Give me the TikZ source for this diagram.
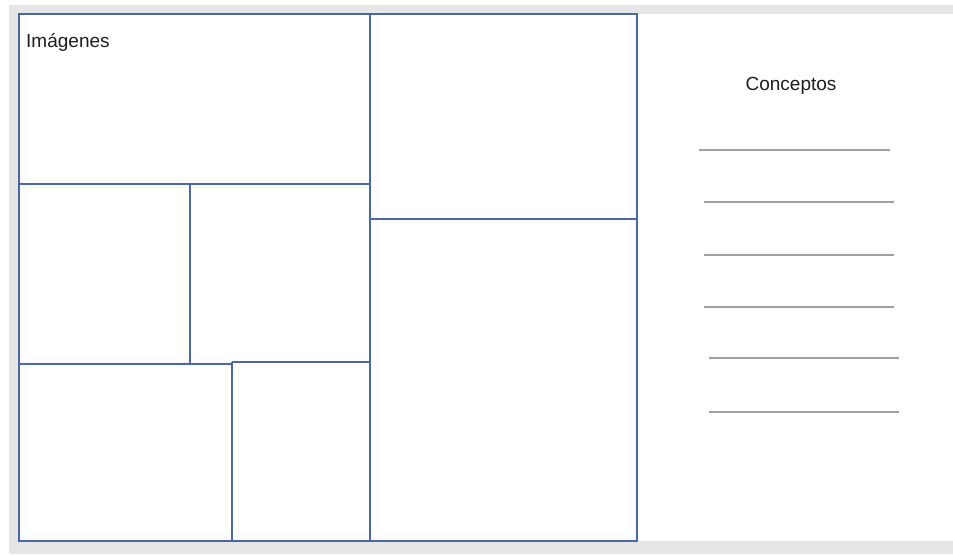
\documentclass[tikz,border=0pt]{standalone}
\usepackage{fontspec}
\setmainfont{Liberation Sans}
\definecolor{canvas}{HTML}{E6E6E6}
\definecolor{frameblue}{HTML}{4A68A8}
\definecolor{rulegray}{HTML}{A0A0A0}
\definecolor{textgray}{HTML}{1E1E1E}
\begin{document}
\begin{tikzpicture}[x=1pt,y=-1pt,
  panel/.style={draw=frameblue,line width=1.5pt},
  ruleline/.style={draw=rulegray,line width=1.6pt},
  label/.style={inner sep=0pt,text=textgray,font=\fontsize{19}{22}\selectfont}]
\useasboundingbox (0,0) rectangle (953,555);
\fill[white] (0,0) rectangle (953,555);
\fill[canvas] (9,5) rectangle (953,554);
\fill[white] (18,14) rectangle (953,541);
% panel corners
\coordinate (tl) at (19,14);
\coordinate (br) at (637,541);
\coordinate (midT) at (370,14);
\coordinate (midB) at (370,541);
% frame
\draw[panel] (tl) rectangle (br);
\draw[panel] (midT) -- (midB);
\draw[panel] (19,184) -- (370,184);
\draw[panel] (190,184) -- (190,364);
\draw[panel] (19,364) -- (232,364);
\draw[panel] (232,362) -- (370,362);
\draw[panel] (232,362) -- (232,541);
\draw[panel] (370,219) -- (637,219);
% texts
\node[label,anchor=base west] (img) at (26,47) {Imágenes};
\node[label,anchor=base] (con) at (791,90) {Conceptos};
% blank lines
\draw[ruleline] (699,150) -- (890,150);
\draw[ruleline] (704,202) -- (894,202);
\draw[ruleline] (704,255) -- (894,255);
\draw[ruleline] (704,307) -- (894,307);
\draw[ruleline] (709,358) -- (899,358);
\draw[ruleline] (709,412) -- (899,412);
\end{tikzpicture}
\end{document}
